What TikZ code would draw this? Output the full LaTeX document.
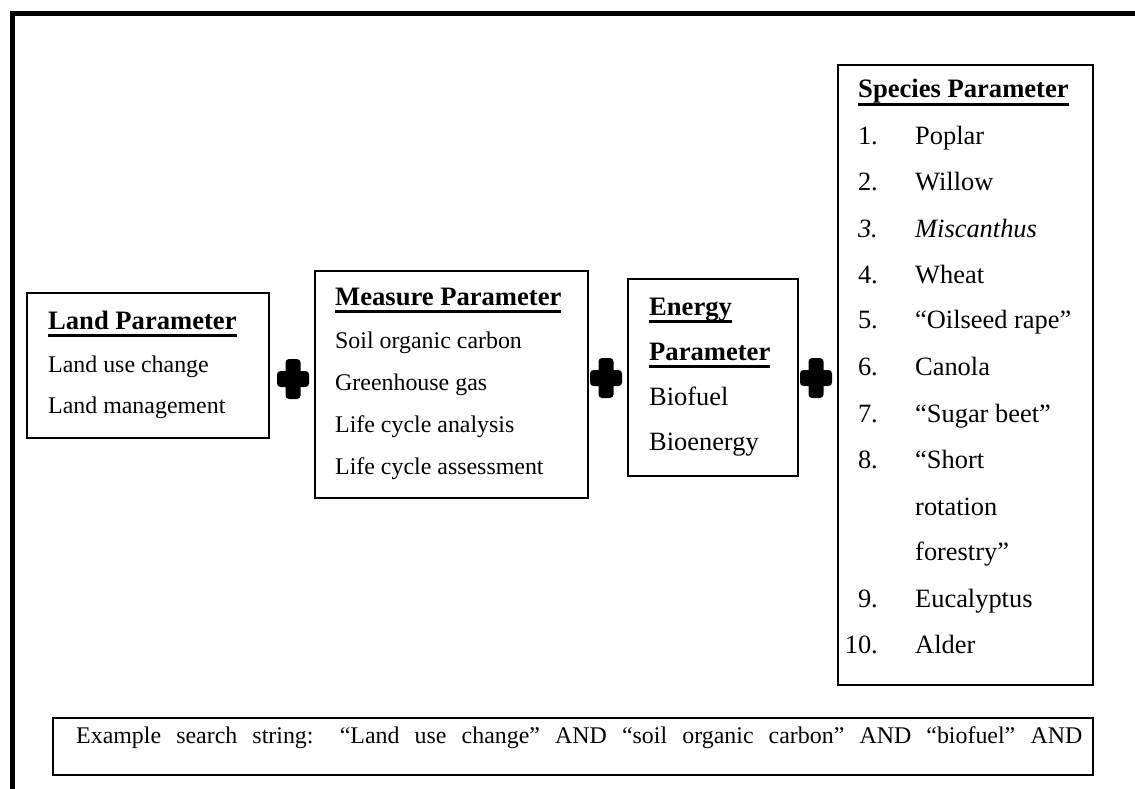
\documentclass[tikz,border=0pt]{standalone}
\usepackage{fontspec}
\setmainfont{Liberation Serif}
\newcommand\ulhead[1]{\setbox0\hbox{#1}\rlap{\rule[-8pt]{\wd0}{2.8pt}}\box0}
\begin{document}
\begin{tikzpicture}[x=1pt,y=-1pt,
  box/.style 2 args={draw, line width=1.5pt, inner sep=0pt, minimum width=#1, minimum height=#2},
  txt/.style={anchor=base west, inner sep=0pt, font=\fontsize{23.9}{28}\selectfont},
  txtl/.style={anchor=base west, inner sep=0pt, font=\fontsize{26.4}{30}\selectfont},
  head/.style={anchor=base west, inner sep=0pt, font=\fontsize{26.6}{30}\selectfont\bfseries},
  num/.style={anchor=base east, inner sep=0pt, font=\fontsize{26.4}{30}\selectfont},
  frame/.style={line width=5pt},
  plussign/.pic={
    \fill[rounded corners=3.5pt] (-7.5,-20) rectangle (7.5,20);
    \fill[rounded corners=3.5pt] (-16,-8) rectangle (16,8);
  }]
\useasboundingbox (0,0) rectangle (1135,789);
% outer frame (cut off at right and bottom)
\coordinate (fbl) at (12.5,789);
\coordinate (ftl) at (12.5,13.5);
\coordinate (ftr) at (1135,13.5);
\draw[frame] (fbl) -- (ftl) -- (ftr);

% boxes
\node[box={242pt}{145pt}] (land) at (148,365.5) {};
\node[box={273pt}{227pt}] (measure) at (451.5,384.5) {};
\node[box={170pt}{197pt}] (energy) at (713,377.5) {};
\node[box={255pt}{620pt}] (species) at (965.5,375) {};
\node[box={1040pt}{57pt}] (example) at (573,746.5) {};

% plus signs
\pic at (293,379) {plussign};
\pic at (606,378) {plussign};
\pic at (816,378) {plussign};

% Land
\node[head] (landh) at (48,329) {\ulhead{Land Parameter}};
\node[txt] (land1) at (48,372) {Land use change};
\node[txt] (land2) at (48,413) {Land management};

% Measure
\node[head] (meash) at (335,305) {\ulhead{Measure Parameter}};
\node[txt] (meas1) at (335,348) {Soil organic carbon};
\node[txt] (meas2) at (335,390) {Greenhouse gas};
\node[txt] (meas3) at (335,432) {Life cycle analysis};
\node[txt] (meas4) at (335,474) {Life cycle assessment};

% Energy
\node[head] (enh1) at (649,315) {\ulhead{Energy}};
\node[head] (enh2) at (649,360) {\ulhead{Parameter}};
\node[txtl] (en1) at (649,405) {Biofuel};
\node[txtl] (en2) at (649,450) {Bioenergy};

% Species
\node[head] (sph) at (858,98) {\ulhead{Species Parameter}};
\node[num] (n1) at (878,145) {1.};
\node[txtl] (s1) at (915,145) {Poplar};
\node[num] (n2) at (878,190) {2.};
\node[txtl] (s2) at (915,190) {Willow};
\node[num] (n3) at (878,237) {\itshape 3.};
\node[txtl] (s3) at (915,237) {\itshape Miscanthus};
\node[num] (n4) at (878,283) {4.};
\node[txtl] (s4) at (915,283) {Wheat};
\node[num] (n5) at (878,328) {5.};
\node[txtl] (s5) at (915,328) {“Oilseed rape”};
\node[num] (n6) at (878,375) {6.};
\node[txtl] (s6) at (915,375) {Canola};
\node[num] (n7) at (878,422) {7.};
\node[txtl] (s7) at (915,422) {“Sugar beet”};
\node[num] (n8) at (878,468) {8.};
\node[txtl] (s8a) at (915,468) {“Short};
\node[txtl] (s8b) at (915,515) {rotation};
\node[txtl] (s8c) at (915,560) {forestry”};
\node[num] (n9) at (878,607) {9.};
\node[txtl] (s9) at (915,607) {Eucalyptus};
\node[num] (n10) at (878,653) {10.};
\node[txtl] (s10) at (915,653) {Alder};

% Example
\node[txt] (extxt) at (76,743) {\hbox to 1006pt{Example search string: “Land use change” AND “soil organic carbon” AND “biofuel” AND}};
\end{tikzpicture}
\end{document}
